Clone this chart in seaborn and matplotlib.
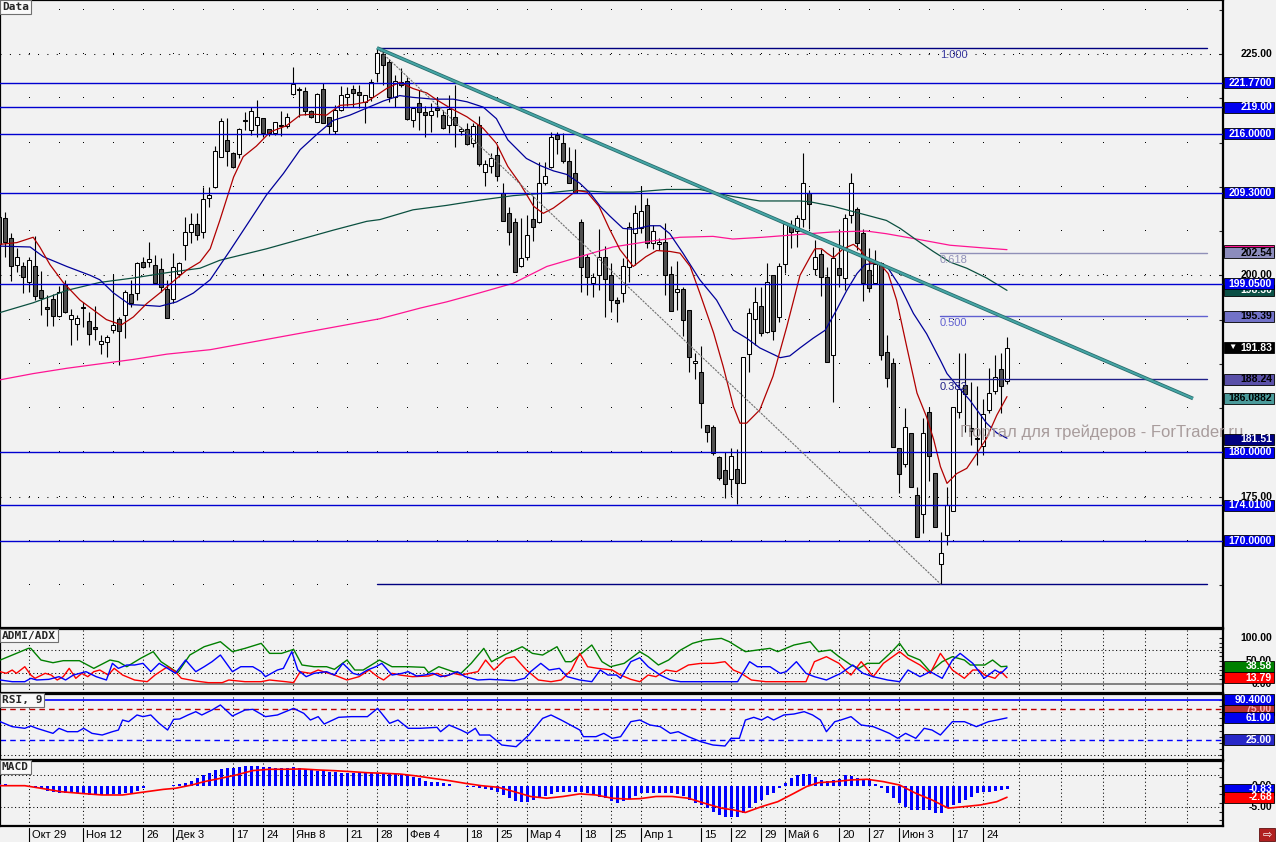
import numpy as np
import pandas as pd
import matplotlib
matplotlib.use("Agg")
import matplotlib.pyplot as plt
from matplotlib.patches import Rectangle
from matplotlib.lines import Line2D
import seaborn as sns

# -------------------------------------------------
# 1. DATA (daily bars, Oct 22 2018 - Jun 28 2019)
# -------------------------------------------------
holidays = ["2018-11-05", "2018-12-31", "2019-01-01", "2019-01-02", "2019-01-03",
            "2019-01-04", "2019-01-07", "2019-03-08", "2019-05-01", "2019-05-09", "2019-06-12"]
dates = pd.bdate_range("2018-10-22", "2019-06-28")
dates = dates[~dates.isin(pd.to_datetime(holidays))]

opens = [206.6, 206.44, 204.18, 201.13, 201.05, 199.29, 201.05, 198.34, 196.46, 197.29,
         195.44, 199.02, 195.03, 194.46, 196.40, 194.84, 194.13, 192.24, 192.51, 193.83,
         195.03, 195.52, 197.85, 197.97, 201.47, 201.54, 201.13, 200.68, 198.42, 197.29,
         200.11, 203.43, 204.93, 205.76, 204.93, 208.70, 209.94, 213.40, 215.29, 213.78,
         213.67, 217.60, 216.42, 216.98, 217.73, 216.49, 216.04, 217.00, 216.90, 220.44,
         221.00, 220.86, 218.60, 217.36, 221.00, 217.92, 216.34, 218.67, 220.18, 221.00,
         220.67, 219.60, 220.18, 222.90, 225.00, 224.13, 220.10, 221.87, 221.99, 217.55,
         219.43, 218.49, 218.11, 218.94, 218.11, 216.98, 217.92, 216.26, 216.49, 214.98,
         216.98, 211.71, 212.35, 213.55, 209.26, 207.00, 205.99, 201.09, 202.03, 206.32,
         206.06, 210.39, 212.20, 215.81, 214.98, 212.91, 211.52, 205.99, 202.11, 199.10,
         200.04, 202.03, 200.04, 197.18, 197.97, 200.98, 204.74, 205.31, 207.94, 203.69,
         203.50, 203.80, 200.11, 198.08, 198.42, 196.08, 190.06, 189.04, 183.09, 182.83,
         179.44, 178.01, 176.99, 178.09, 176.51, 191.08, 195.03, 196.53, 193.64, 200.04,
         195.33, 201.28, 205.69, 205.05, 206.32, 209.26, 200.68, 202.37, 199.85, 190.99,
         200.79, 199.66, 206.81, 207.45, 204.82, 200.60, 199.17, 201.36, 191.30, 190.06,
         180.46, 178.69, 182.15, 175.19, 173.04, 184.60, 177.63, 167.40, 170.67, 173.42,
         184.60, 187.61, 182.70, 181.65, 180.72, 184.79, 186.97, 189.38, 188.10]
highs = [207.1, 207.19, 204.81, 203.05, 201.54, 202.11, 204.44, 200.49, 197.78, 197.89,
         198.79, 199.47, 196.16, 195.52, 197.03, 195.90, 196.53, 193.26, 193.26, 200.03,
         195.25, 198.34, 199.47, 201.54, 202.11, 203.80, 202.29, 201.99, 199.47, 202.48,
         201.54, 206.63, 207.00, 207.00, 210.00, 210.00, 214.61, 217.73, 217.73, 213.97,
         216.60, 218.50, 219.05, 219.80, 217.73, 216.49, 217.36, 218.56, 218.30, 223.50,
         221.30, 221.30, 218.67, 220.56, 221.69, 217.92, 219.24, 221.38, 221.31, 221.50,
         221.50, 220.37, 222.14, 225.69, 225.45, 224.40, 222.63, 223.38, 222.44, 219.05,
         220.93, 219.13, 219.43, 220.18, 218.67, 220.37, 221.50, 216.79, 217.17, 217.17,
         217.99, 213.03, 213.78, 214.72, 210.47, 207.76, 206.44, 206.44, 206.81, 208.96,
         212.76, 212.84, 216.23, 216.23, 216.11, 214.53, 214.23, 206.32, 202.41, 200.30,
         205.20, 203.31, 201.36, 197.59, 201.92, 206.06, 207.94, 210.09, 208.70, 205.69,
         204.18, 205.87, 201.05, 201.66, 198.72, 196.08, 191.19, 192.02, 183.09, 183.09,
         179.60, 180.08, 180.46, 180.35, 190.81, 196.27, 198.72, 198.72, 201.43, 200.04,
         201.36, 206.06, 206.25, 206.81, 213.78, 209.64, 203.99, 202.94, 200.98, 203.24,
         205.20, 206.93, 211.52, 207.75, 205.20, 203.05, 202.86, 201.54, 193.26, 190.63,
         180.46, 184.98, 182.15, 176.13, 183.85, 185.17, 177.71, 171.05, 176.13, 185.17,
         191.19, 191.19, 187.99, 187.50, 185.99, 189.57, 190.99, 191.19, 193.07]
lows = [202.1, 202.11, 199.36, 200.41, 197.97, 198.15, 197.21, 195.52, 194.28, 194.28,
        195.25, 195.71, 192.13, 192.70, 194.20, 192.13, 192.70, 191.12, 190.74, 193.45,
        189.87, 192.88, 196.46, 197.21, 200.79, 200.90, 199.10, 198.15, 195.14, 196.91,
        199.85, 201.73, 203.61, 203.99, 204.18, 207.75, 209.83, 213.33, 212.35, 212.08,
        213.22, 216.40, 215.85, 215.59, 215.66, 215.74, 215.85, 215.74, 216.60, 220.37,
        217.90, 218.11, 217.73, 217.36, 217.17, 215.93, 215.93, 218.56, 219.13, 219.05,
        218.86, 217.24, 219.73, 221.87, 221.50, 219.62, 219.05, 221.31, 217.54, 216.79,
        216.42, 215.59, 216.23, 217.92, 216.49, 216.11, 214.46, 215.85, 214.72, 214.53,
        212.35, 210.09, 211.52, 210.69, 206.17, 203.43, 200.34, 200.98, 201.73, 203.92,
        205.88, 210.20, 212.09, 213.70, 212.65, 210.39, 209.26, 198.15, 197.78, 197.59,
        198.34, 195.33, 195.90, 194.77, 197.02, 199.29, 201.17, 204.74, 203.05, 202.94,
        202.86, 197.78, 196.01, 196.08, 193.15, 189.12, 188.25, 182.72, 181.21, 179.70,
        176.90, 174.81, 175.19, 174.17, 176.51, 189.12, 192.13, 193.15, 193.52, 192.70,
        194.77, 200.23, 203.05, 203.24, 205.42, 205.20, 200.04, 197.66, 190.25, 185.73,
        198.72, 198.34, 205.87, 202.86, 197.14, 198.15, 199.17, 190.44, 187.42, 180.60,
        175.38, 178.31, 176.05, 170.41, 170.93, 176.81, 171.53, 165.09, 169.54, 173.42,
        183.85, 182.34, 180.83, 178.60, 179.70, 184.41, 186.60, 184.41, 187.72]
closes = [203.5, 203.80, 201.05, 202.03, 199.85, 201.69, 197.70, 197.48, 196.16, 195.44,
          198.08, 195.82, 195.52, 195.14, 196.30, 193.37, 193.90, 192.62, 193.00, 194.39,
          193.75, 198.08, 196.91, 201.43, 200.98, 201.81, 199.10, 198.72, 195.14, 200.98,
          201.43, 204.93, 205.76, 204.55, 208.62, 209.07, 214.04, 217.43, 214.08, 212.27,
          216.49, 217.40, 218.56, 217.92, 216.11, 216.04, 217.28, 216.90, 217.92, 221.57,
          220.90, 218.60, 217.85, 220.44, 217.24, 216.87, 218.67, 220.37, 220.48, 220.63,
          220.33, 220.33, 221.87, 225.15, 223.76, 220.10, 221.95, 221.50, 217.66, 218.86,
          218.49, 218.11, 218.60, 218.67, 216.60, 218.75, 216.98, 216.49, 214.83, 216.87,
          212.54, 212.54, 213.22, 211.26, 206.17, 204.93, 200.34, 201.92, 204.55, 205.50,
          210.39, 211.26, 215.66, 215.44, 212.95, 210.47, 209.34, 200.98, 199.77, 199.77,
          202.11, 199.55, 197.21, 196.84, 201.05, 205.42, 207.00, 207.27, 203.69, 205.05,
          203.76, 200.04, 196.01, 198.42, 194.95, 190.81, 190.32, 185.54, 182.34, 179.90,
          177.07, 176.43, 179.60, 176.51, 190.81, 195.78, 197.03, 193.52, 199.29, 193.75,
          201.05, 205.76, 204.93, 206.51, 210.47, 208.02, 202.03, 199.77, 190.25, 201.92,
          200.04, 206.44, 210.47, 203.61, 199.17, 198.53, 201.24, 191.00, 188.37, 180.60,
          177.56, 182.83, 176.13, 170.41, 182.23, 179.59, 171.61, 168.60, 174.06, 185.17,
          187.12, 186.60, 182.45, 181.50, 184.30, 186.67, 188.47, 187.50, 191.83]

# moving averages: (bar, value)
ma_red = [(0.2, 203.5), (3, 203.7), (5.7, 204.3), (6.8, 203.2), (8.5, 201.2), (10.7, 199.2), (13.5, 197.2),
          (15.7, 196.1), (17.9, 195.0), (20.4, 194.4), (22.4, 195.3), (24.6, 196.8), (26.8, 198.0), (29, 199.3),
          (31.3, 200.6), (33.5, 201.5), (35.2, 203.0), (36.8, 206.2), (39.1, 211.1), (40.7, 213.4), (42.9, 214.6),
          (45.2, 216.2), (47.9, 216.9), (50.2, 218.1), (52.4, 218.2), (54.6, 218.1), (56.8, 219.2), (59.1, 219.3),
          (61.3, 219.6), (63.5, 220.6), (64.6, 221.1), (66.8, 221.8), (69, 221.1), (71.3, 220.6), (73, 219.8),
          (75.2, 218.9), (78, 217.9), (80.7, 216.6), (82.9, 214.9), (84.8, 212.3), (86.8, 210.4), (89.1, 207.8),
          (90.7, 207.0), (92.4, 207.6), (94.6, 208.7), (96.3, 209.6), (98, 209.4), (100, 207.8), (101.7, 205.3),
          (103.5, 202.9), (105.7, 201.0), (107.8, 202.1), (109.6, 202.8), (111.8, 202.7), (113.5, 202.5),
          (115.2, 201.0), (116.8, 198.0), (119.1, 193.5), (120.7, 189.7), (122.4, 185.2), (123.5, 183.3),
          (124.6, 183.3), (126.8, 184.8), (129, 188.6), (131.3, 194.2), (133.5, 200.0), (135.2, 202.1),
          (136, 203.0), (137.1, 203.0), (138, 202.5), (139.1, 202.0), (140.7, 203.0), (142.4, 203.5),
          (143.5, 202.9), (145.2, 201.4), (146.8, 201.3), (148.2, 200.2), (149.6, 197.2), (151.3, 191.9),
          (153, 186.7), (154.6, 184.0), (155.8, 181.4), (156.9, 178.4), (158, 176.5), (159.6, 177.6),
          (161.3, 178.2), (163, 179.9), (164.6, 181.6), (166.3, 184.2), (168, 186.3)]
ma_blue = [(0.2, 203.3), (5.2, 203.2), (7.4, 202.1), (11.3, 201.0), (15.2, 200.0), (16.8, 199.5), (19.1, 198.0),
           (21.8, 196.7), (24.6, 196.6), (26.8, 196.5), (29.6, 197.0), (32.4, 198.0), (35.2, 199.5), (38.5, 202.8),
           (41.8, 206.2), (44.6, 209.1), (47.4, 211.5), (50.2, 214.2), (53.1, 216.0), (55.7, 217.5), (58.5, 218.1),
           (61.3, 218.9), (64.1, 219.7), (66.8, 220.3), (69, 220.1), (72.4, 219.9), (75.7, 219.9), (78, 219.6),
           (80.7, 219.0), (82.9, 217.7), (84.8, 215.3), (87.9, 213.2), (90.2, 212.4), (92.4, 211.8), (94.6, 211.4),
           (96.8, 210.4), (98.5, 209.3), (100.2, 207.8), (101.8, 206.7), (104, 205.3), (105.7, 205.2),
           (108.5, 205.6), (110.2, 205.6), (111.8, 204.7), (114, 202.5), (116.8, 199.5), (119.6, 197.2),
           (122.4, 193.8), (124.6, 192.9), (126.8, 191.8), (130.2, 190.7), (131.8, 190.9), (133.5, 191.8),
           (135.7, 192.9), (137.7, 193.8), (139.6, 196.1), (141.3, 198.3), (143, 200.2), (144.3, 201.2),
           (146.3, 201.4), (148, 201.0), (150.2, 198.7), (152.4, 195.7), (154.6, 193.4), (156.9, 190.4),
           (158, 188.9), (159.6, 187.6), (161.8, 185.9), (164.6, 183.3), (166.3, 182.2), (168, 181.6)]
ma_green = [(0.2, 195.8), (5.7, 196.9), (11.3, 198.3), (16.8, 199.2), (22.4, 199.7), (28, 200.3), (33.5, 200.8),
            (36.8, 201.7), (44.6, 203.0), (55.7, 205.1), (61.3, 206.1), (63.5, 206.3), (69, 207.4), (74.6, 207.9),
            (80.2, 208.5), (85.7, 209.0), (91.3, 209.3), (95.7, 209.6), (101.3, 209.4), (105.7, 209.4),
            (111.3, 209.7), (116.8, 209.7), (122.3, 208.9), (126.8, 208.4), (133.5, 208.4), (135.2, 208.3),
            (139, 207.8), (144.6, 206.8), (147.9, 206.2), (150.2, 205.3), (152.9, 204.0), (155.7, 202.7),
            (158.5, 201.5), (161.3, 200.8), (164.6, 199.7), (168, 198.3)]
ma_pink = [(0.2, 188.2), (5.7, 188.9), (11.3, 189.5), (16.8, 190.0), (22.4, 190.5), (28, 191.1), (35.2, 191.6),
           (63.5, 195.1), (70.2, 196.3), (74.6, 197.0), (80, 198.0), (85.7, 199.1), (91.3, 201.0), (96.8, 202.1),
           (102.3, 203.2), (108, 203.8), (113.5, 204.3), (119, 204.4), (122.3, 204.1), (127.3, 204.3),
           (133, 204.6), (139, 204.9), (144.6, 205.0), (147.9, 204.7), (152.9, 204.1), (158.5, 203.4),
           (164, 203.1), (168, 202.9)]

# horizontal levels and right-axis tags
levels = [221.77, 219.0, 216.0, 209.3, 199.05, 180.0, 174.01, 170.0]
level_text = ["221.7700", "219.00", "216.0000", "209.3000", "199.0500", "180.0000", "174.0100", "170.0000"]
fibo_high, fibo_low = 225.69, 165.09
fibo_ratios = [0.618, 0.5, 0.382]
trend_end = (199.0, 186.0882)

# ADMI/ADX: (bar, value)
dmi_green = [(0.2, 52.1), (2.9, 66.6), (4.9, 77.5), (5.3, 77.5), (7.0, 52.1), (9.0, 46.3), (10.7, 50.7), (13.4, 50.7),
             (15.8, 34.0), (18.5, 52.1), (19.9, 48.5), (21.3, 37.6), (23.6, 55.8), (25.7, 70.3), (27.0, 48.5),
             (29.8, 24.6), (31.8, 63.0), (34.2, 81.1), (36.9, 92.0), (38.9, 70.3), (41.0, 77.5), (43.7, 88.4),
             (45.1, 66.6), (47.1, 66.6), (49.1, 75.3), (50.5, 41.3), (52.5, 37.6), (54.6, 37.6), (55.9, 31.9),
             (58.0, 52.1), (59.3, 30.4), (60.7, 30.4), (63.4, 52.1), (65.5, 37.6), (68.2, 37.6), (70.9, 36.2),
             (71.6, 24.6), (73.3, 37.6), (75.7, 26.8), (77.0, 23.2), (78.7, 44.9), (80.8, 77.5), (82.1, 48.5),
             (84.2, 63.0), (87.2, 81.1), (88.9, 66.6), (90.6, 63.0), (93.0, 81.1), (94.4, 48.5), (95.4, 48.5),
             (97.1, 66.6), (98.8, 84.8), (100.5, 48.5), (101.9, 37.6), (104.2, 44.9), (106.8, 70.3),
             (108.2, 59.4), (109.9, 41.3), (111.6, 52.1), (113.6, 73.9), (115.6, 88.4), (117.6, 95.6),
             (120.4, 99.2), (121.7, 92.0), (124.4, 70.3), (126.4, 73.9), (128.5, 77.5), (129.8, 70.3),
             (132.5, 84.8), (135.2, 92.0), (136.6, 70.3), (138.6, 73.9), (140.0, 59.4), (142.0, 41.3),
             (143.3, 34.0), (144.7, 44.9), (146.7, 44.9), (148.8, 70.3), (150.1, 88.4), (151.5, 63.0),
             (153.5, 52.1), (155.2, 26.8), (157.2, 48.5), (158.9, 59.4), (160.9, 52.1), (161.9, 41.3),
             (164.3, 41.3), (165.6, 52.1), (167.0, 37.6), (168.0, 38.6)]
dmi_red = [(0.2, 26.8), (1.2, 23.2), (2.2, 30.4), (2.9, 23.2), (4.3, 37.6), (5.3, 19.5), (6.0, 12.3), (7.7, 23.2),
           (8.7, 19.5), (9.7, 8.7), (10.7, 15.9), (11.7, 34.0), (12.8, 12.3), (13.8, 23.2), (14.8, 15.9),
           (15.8, 26.8), (16.8, 30.4), (18.2, 19.5), (19.2, 34.0), (20.6, 19.5), (22.6, 8.7), (24.7, 5.0),
           (26.0, 19.5), (28.1, 37.6), (29.4, 26.8), (30.4, 12.3), (32.8, 6.5), (34.9, 2.9), (37.2, 2.9),
           (38.3, 8.7), (41.0, 5.0), (43.7, 5.0), (45.1, 8.7), (47.8, 5.0), (49.1, 2.9), (50.2, 26.8),
           (51.9, 23.2), (53.2, 30.4), (54.6, 24.6), (55.9, 19.5), (58.0, 8.7), (60.0, 15.9), (61.7, 30.4),
           (63.1, 15.9), (64.1, 8.7), (65.5, 23.2), (66.8, 19.5), (68.9, 15.9), (71.6, 17.4), (73.0, 23.2),
           (74.3, 15.9), (75.7, 23.2), (77.0, 19.5), (78.4, 23.2), (79.8, 26.8), (81.1, 52.1), (82.5, 30.4),
           (84.5, 55.8), (85.9, 59.4), (87.9, 30.4), (89.9, 8.7), (92.0, 5.0), (93.7, 8.7), (95.4, 30.4),
           (96.8, 66.6), (98.1, 37.6), (99.8, 34.0), (102.2, 30.4), (103.6, 19.5), (105.3, 10.1), (106.8, 5.0),
           (108.2, 19.5), (109.5, 15.9), (111.2, 30.4), (112.9, 26.8), (114.9, 41.3), (117.0, 44.9),
           (119.0, 44.9), (121.0, 48.5), (122.4, 30.4), (123.7, 23.2), (125.4, 8.7), (127.8, 5.0), (129.1, 5.0),
           (134.5, 5.0), (135.9, 48.5), (137.9, 59.4), (140.0, 44.9), (141.3, 26.8), (142.0, 19.5),
           (143.7, 48.5), (145.7, 15.9), (147.4, 44.9), (150.1, 70.3), (151.5, 55.8), (153.5, 41.3),
           (155.2, 23.2), (156.9, 66.6), (158.9, 30.4), (160.9, 12.3), (162.3, 30.4), (163.3, 30.4),
           (164.3, 19.5), (166.0, 12.3), (167.0, 26.8), (168.0, 13.8)]
dmi_blue = [(0.2, 8.7), (2.2, 5.0), (4.3, 5.0), (5.3, 12.3), (6.3, 8.7), (8.3, 10.1), (10.0, 15.9), (11.1, 8.7),
            (12.4, 19.5), (14.5, 26.8), (16.2, 15.9), (17.9, 8.7), (18.9, 44.9), (19.9, 34.0), (21.3, 41.3),
            (22.6, 41.3), (24.0, 44.9), (25.3, 26.8), (26.7, 44.9), (28.1, 34.0), (29.4, 23.2), (31.1, 52.1),
            (32.8, 26.8), (34.2, 37.6), (35.5, 48.5), (36.9, 63.0), (38.9, 26.8), (40.3, 37.6), (42.3, 37.6),
            (43.7, 26.8), (44.4, 15.9), (46.4, 30.4), (47.4, 34.0), (48.8, 70.3), (49.8, 30.4), (51.2, 15.9),
            (52.5, 23.2), (54.6, 26.8), (55.9, 19.5), (57.3, 44.9), (59.0, 23.2), (60.0, 19.5), (61.4, 30.4),
            (62.8, 37.6), (63.8, 44.9), (65.5, 19.5), (67.2, 23.2), (68.2, 26.8), (69.6, 17.4), (70.9, 19.5),
            (72.3, 23.2), (73.6, 15.9), (75.0, 19.5), (76.4, 26.8), (77.7, 15.9), (79.8, 8.7), (81.8, 10.1),
            (83.8, 8.7), (85.9, 7.2), (87.6, 12.3), (88.6, 26.8), (90.3, 44.9), (91.7, 30.4), (93.4, 34.0),
            (94.7, 15.9), (96.8, 8.7), (98.8, 5.0), (100.2, 30.4), (101.5, 19.5), (102.9, 19.5), (103.6, 12.3),
            (105.3, 48.5), (106.8, 57.0), (108.2, 37.6), (110.2, 19.5), (111.9, 8.7), (113.6, 5.0),
            (123.1, 5.0), (125.1, 48.5), (126.4, 37.6), (128.5, 37.6), (130.2, 23.2), (131.2, 26.8),
            (132.9, 48.5), (134.5, 23.2), (135.9, 15.9), (137.9, 8.7), (140.3, 23.2), (142.3, 41.3),
            (144.0, 23.2), (145.7, 15.9), (148.1, 8.7), (150.1, 5.0), (151.5, 30.4), (153.5, 15.9),
            (155.2, 26.8), (157.2, 12.3), (158.9, 52.1), (160.2, 66.6), (162.3, 44.9), (164.2, 12.3),
            (166.0, 30.4), (167.0, 23.2), (168.0, 36.0)]

# RSI(9): (bar, value)
rsi = [(0.2, 54.8), (2.2, 46.7), (4.3, 44.0), (5.3, 47.8), (6.3, 44.0), (9.0, 35.8), (10.0, 44.0), (11.4, 38.5),
       (13.1, 38.5), (14.1, 44.0), (15.5, 35.8), (17.2, 33.1), (18.9, 38.5), (19.9, 41.2), (20.6, 57.5),
       (21.6, 54.8), (23.0, 65.7), (24.0, 63.0), (25.3, 65.7), (26.7, 52.1), (28.1, 41.2), (29.1, 58.6),
       (30.1, 59.2), (31.5, 65.7), (32.8, 71.1), (33.8, 65.7), (35.5, 73.8), (36.9, 82.0), (38.9, 64.0),
       (41.0, 73.8), (42.3, 74.9), (44.4, 63.0), (46.4, 65.7), (49.1, 76.5), (50.8, 68.4), (51.9, 57.5),
       (53.2, 63.0), (54.2, 51.0), (56.6, 61.9), (58.7, 63.0), (61.4, 63.0), (63.1, 76.5), (65.1, 52.1),
       (66.5, 57.5), (68.2, 44.0), (70.2, 44.0), (73.0, 45.6), (73.6, 38.5), (75.0, 49.4), (77.0, 41.2),
       (78.1, 35.8), (79.4, 44.0), (80.1, 33.1), (81.8, 33.1), (83.8, 16.8), (86.2, 14.1), (88.3, 33.1),
       (90.6, 60.2), (92.0, 65.7), (93.7, 57.5), (96.8, 41.2), (97.4, 30.4), (99.5, 30.4), (100.8, 35.8),
       (102.2, 27.7), (103.6, 30.4), (105.3, 54.8), (106.8, 57.5), (108.5, 49.4), (110.2, 46.7),
       (111.9, 35.8), (113.2, 38.5), (114.9, 30.4), (117.0, 22.2), (119.0, 16.8), (121.0, 15.2),
       (122.0, 27.7), (123.4, 27.7), (124.4, 57.5), (125.8, 61.9), (127.1, 57.5), (128.1, 63.0),
       (129.1, 57.5), (130.8, 65.7), (132.5, 67.3), (134.2, 71.1), (135.6, 65.7), (136.9, 57.5),
       (137.9, 38.5), (139.3, 54.8), (140.3, 57.5), (142.0, 63.0), (143.7, 49.4), (145.7, 46.7),
       (147.1, 41.2), (148.4, 35.8), (149.8, 27.7), (151.1, 35.8), (152.8, 27.7), (154.2, 44.0),
       (155.5, 41.2), (156.9, 33.1), (158.9, 54.8), (160.9, 54.8), (162.9, 46.7), (164.9, 54.8),
       (166.3, 57.5), (168.0, 61.0)]

# MACD histogram (one value per bar) and signal line
macd_hist = [0.4, 0.5, 0.1, 0.0, -0.1, -0.3, -0.6, -0.84, -1.15, -1.38,
             -1.6, -1.76, -1.76, -1.76, -1.9, -2.1, -2.15, -2.15, -2.15, -1.95,
             -1.9, -1.76, -1.6, -1.15, -0.6, -0.08, -0.05, 0.0, -0.05, 0.05,
             0.4, 0.7, 1.17, 1.71, 2.48, 3.0, 3.64, 3.8, 4.0, 4.18,
             4.41, 4.56, 4.56, 4.56, 4.41, 4.25, 4.18, 4.18, 4.18, 4.25,
             4.1, 3.87, 3.64, 3.5, 3.3, 3.25, 3.1, 3.02, 3.02, 3.02,
             2.95, 2.87, 2.87, 2.87, 2.87, 2.71, 2.64, 2.64, 2.48, 2.1,
             1.71, 1.17, 0.94, 0.78, 0.55, 0.32, 0.01, -0.08, -0.22, -0.22,
             -0.45, -0.84, -0.99, -1.38, -2.15, -2.92, -3.54, -3.69, -3.69, -3.31,
             -2.92, -2.38, -1.92, -1.38, -1.38, -1.38, -1.38, -1.38, -1.76, -2.15,
             -2.54, -2.92, -3.54, -3.92, -3.6, -3.0, -2.4, -1.76, -1.76, -1.76,
             -1.76, -1.76, -1.76, -2.0, -2.3, -3.3, -4.07, -4.45, -5.2, -6.0,
             -6.8, -7.2, -7.2, -7.2, -6.4, -5.2, -4.07, -3.3, -2.15, -1.76,
             -0.6, 0.6, 1.7, 2.48, 2.71, 2.71, 2.1, 1.33, 1.17, 1.33,
             1.48, 2.48, 2.25, 1.71, 1.48, 1.33, 0.4, -0.6, -1.76, -2.92,
             -4.07, -4.84, -5.6, -5.6, -5.6, -5.6, -6.4, -6.4, -5.2, -4.45,
             -4.07, -3.3, -2.54, -1.76, -1.38, -1.5, -1.2, -0.9, -0.83]
macd_signal = [(0.2, 0.0), (4.3, 0.0), (7.0, -0.6), (10.4, -1.4), (13.8, -1.8), (17.2, -2.15), (20.6, -2.15),
               (24.0, -1.5), (27.4, -0.85), (29.4, -0.6), (32.1, 0.15), (34.2, 0.94), (36.9, 1.7), (39.6, 2.5),
               (42.3, 3.5), (45.1, 3.8), (47.8, 3.8), (50.5, 3.87), (53.2, 3.64), (55.9, 3.48), (58.7, 3.25),
               (61.4, 3.0), (64.1, 2.87), (66.8, 2.7), (69.6, 2.25), (72.3, 1.7), (75.0, 1.17), (77.7, 0.55),
               (80.4, 0.0), (83.2, -0.37), (85.9, -1.4), (88.6, -2.5), (91.3, -2.9), (94.0, -2.5), (96.8, -1.9),
               (99.5, -2.15), (102.2, -2.9), (104.9, -3.1), (106.8, -3.0), (109.5, -2.5), (112.2, -2.5),
               (114.9, -2.9), (117.6, -4.07), (120.4, -5.2), (122.4, -5.6), (124.4, -6.2), (127.1, -4.84),
               (129.8, -3.7), (132.5, -1.76), (134.6, -0.2), (136.6, 0.7), (139.3, 0.94), (142.0, 1.33),
               (144.7, 1.48), (147.4, 0.94), (150.1, 0.15), (152.8, -1.76), (155.5, -3.3), (158.2, -5.2),
               (160.9, -4.84), (163.6, -4.45), (166.3, -3.7), (168.0, -2.68)]

# x-axis labels
lab_dates = ["2018-10-29", "2018-11-12", "2018-11-26", "2018-12-03", "2018-12-17", "2018-12-24",
             "2019-01-08", "2019-01-21", "2019-01-28", "2019-02-04", "2019-02-18", "2019-02-25",
             "2019-03-04", "2019-03-18", "2019-03-25", "2019-04-01", "2019-04-15", "2019-04-22",
             "2019-04-29", "2019-05-06", "2019-05-20", "2019-05-27", "2019-06-03", "2019-06-17", "2019-06-24"]
lab_text = ["Окт 29", "Ноя 12", "26", "Дек 3", "17", "24", "Янв 8", "21", "28", "Фев 4", "18", "25",
            "Мар 4", "18", "25", "Апр 1", "15", "22", "29", "Май 6", "20", "27", "Июн 3", "17", "24"]
future_cols = [170, 177, 184, 191, 198]

# -------------------------------------------------
# 2. FIGURE / PANELS
# -------------------------------------------------
sns.set_style("white")
plt.rcParams["font.family"] = ["Liberation Sans", "DejaVu Sans"]
plt.rcParams["patch.edgecolor"] = "none"

W, H = 1276, 842
BG = "#f2f2f2"
fig = plt.figure(figsize=(W / 100, H / 100), dpi=100, facecolor=BG)


def px_box(x0, y0, x1, y1):
    return [x0 / W, 1 - y1 / H, (x1 - x0) / W, (y1 - y0) / H]


ax = fig.add_axes(px_box(0, 0, 1223, 627.5))
ax_adx = fig.add_axes(px_box(0, 628.5, 1223, 692.5))
ax_rsi = fig.add_axes(px_box(0, 693.5, 1223, 759.5))
ax_macd = fig.add_axes(px_box(0, 760.5, 1223, 826))
panels = [ax, ax_adx, ax_rsi, ax_macd]

for a in panels:
    a.set_facecolor(BG)
    a.set_xlim(1 / 6, 204.0)
    for s in a.spines.values():
        s.set_color("black")
        s.set_linewidth(1.6)
    a.yaxis.tick_right()
    a.tick_params(axis="y", direction="in", length=3, width=0.8, labelright=False, right=True, left=False)
    a.tick_params(axis="x", bottom=False, labelbottom=False)

ax.set_ylim(160.22, 231.1)
ax_adx.set_ylim(-18.5, 120.7)
ax_rsi.set_ylim(-6.8, 100.7)
ax_macd.set_ylim(-9.33, 5.83)
ax.set_yticks(np.arange(165, 231, 5))
ax_adx.set_yticks(np.arange(0, 101, 10))
ax_rsi.set_yticks(np.arange(0, 101, 10))
ax_macd.set_yticks(np.arange(-8, 5, 2))

n = len(closes)
idx = np.arange(n)
wk = dates.isocalendar().week.values
week_starts = [i for i in range(n) if i == 0 or wk[i] != wk[i - 1]]
lab_idx = [dates.get_loc(pd.Timestamp(d)) for d in lab_dates]

# ---- grid (dots at week x 5-unit intersections) ----
gx, gy = np.meshgrid(week_starts + future_cols, np.arange(165, 231, 5))
ax.plot(gx.ravel(), gy.ravel(), ",", color="black", zorder=1)
for v in (175, 200, 225):
    ax.axhline(v, color="black", lw=0.75, ls=(0, (1, 8)), zorder=1)

for a, rows in ((ax_adx, (75, 25)), (ax_rsi, (50, 0)), (ax_macd, (2.5, -5))):
    for v in rows:
        a.axhline(v, color="black", lw=0.75, ls=(0, (1, 2.5)), zorder=1)
    for c in lab_idx + future_cols:
        a.axvline(c, color="black", lw=0.75, ls=(0, (1, 2.5)), zorder=1)

# ---- candles ----
o, h, l, c = map(np.array, (opens, highs, lows, closes))
up = c > o
ax.vlines(idx, l, h, color="black", lw=0.8, zorder=3)
bot = np.minimum(o, c)
bh = np.maximum(np.abs(c - o), 0.12)
ax.bar(idx[up], bh[up], bottom=bot[up], width=0.68, color="white", edgecolor="black", linewidth=0.75, zorder=4)
ax.bar(idx[~up], bh[~up], bottom=bot[~up], width=0.68, color="#505050", edgecolor="black", linewidth=0.75,
       zorder=4)


def line(a, pts, color, lw=0.9, z=5):
    xs, ys = zip(*pts)
    sns.lineplot(x=list(xs), y=list(ys), ax=a, color=color, linewidth=lw, estimator=None, sort=False,
                 zorder=z)


line(ax, ma_pink, "#ff1493")
line(ax, ma_green, "#0b5040")
line(ax, ma_blue, "#00009a")
line(ax, ma_red, "#b00000")

# ---- levels, fibo, trendline ----
for v in levels:
    ax.axhline(v, color="#0000d0", lw=1.0, zorder=6)

x_fib = 941 / 6
x_end = 1208 / 6
ax.plot([63, x_end], [fibo_high, fibo_high], color="#000080", lw=1.0, zorder=6)
ax.plot([63, x_end], [fibo_low, fibo_low], color="#000080", lw=1.0, zorder=6)
fib_cols = ["#9090b8", "#6060d0", "#202088"]
for r, col in zip(fibo_ratios, fib_cols):
    v = fibo_low + r * (fibo_high - fibo_low)
    ax.plot([x_fib, x_end], [v, v], color=col, lw=1.0, zorder=6)
    ax.text(x_fib, v - 0.8, f"{r:.3f}", color=col, fontsize=8, ha="left", va="center", zorder=7)
ax.text(x_fib, fibo_high - 0.8, "1.000", color="#3a3aa0", fontsize=8, ha="left", va="center", zorder=7)
ax.plot([63, 157], [fibo_high, fibo_low], color="#707070", lw=0.8, ls=(0, (2, 1)), zorder=6)

ax.plot([63, trend_end[0]], [fibo_high, trend_end[1]], color="#2a6e6e", lw=2.6, zorder=7,
        solid_capstyle="butt")
ax.plot([63, trend_end[0]], [fibo_high, trend_end[1]], color="#45a5a5", lw=1.4, zorder=7,
        solid_capstyle="butt")

# ---- ADX panel ----
ax_adx.axhline(0, color="#808080", lw=1.4, zorder=2)
line(ax_adx, dmi_green, "#008000", lw=1.0)
line(ax_adx, dmi_red, "#ff0000", lw=1.0)
line(ax_adx, dmi_blue, "#0000ff", lw=1.0)

# ---- RSI panel ----
ax_rsi.axhline(90.4, color="#0000ff", lw=1.2, zorder=2)
ax_rsi.axhline(75, color="#c00000", lw=1.0, ls=(0, (4, 3)), zorder=2)
ax_rsi.axhline(25, color="#0000ff", lw=1.0, ls=(0, (4, 3)), zorder=2)
line(ax_rsi, rsi, "#0000ff", lw=1.0)

# ---- MACD panel ----
ax_macd.bar(idx, macd_hist, width=0.5, color="#0000ff", edgecolor="none", linewidth=0, zorder=3)
line(ax_macd, macd_signal, "#ff0000", lw=1.2)

for a in panels:
    a.set_xlabel("")
    a.set_ylabel("")

# -------------------------------------------------
# 3. RIGHT SCALE TAGS / LABELS
# -------------------------------------------------
zc = [5.0]


def ypx(a, v):
    return a.transData.transform((0, v))[1]


def plain(a, v, text):
    fig.text(1272 / W, ypx(a, v) / H, text, ha="right", va="center", fontsize=7.5, fontweight="bold",
             color="black", zorder=4.5)


def tag(a, v, text, fc, tc="white"):
    y = ypx(a, v)
    zc[0] += 0.01
    fig.add_artist(Rectangle((1224 / W, (y - 5.5) / H), 50 / W, 11 / H, transform=fig.transFigure,
                             facecolor=fc, edgecolor="black", linewidth=0.6, zorder=zc[0]))
    if text:
        fig.text(1272 / W, y / H, text, ha="right", va="center", fontsize=7.5, fontweight="bold", color=tc,
                 zorder=zc[0] + 0.005)
    return y


# watermark
fig.text(960 / W, 1 - 432 / H, "Портал для трейдеров - ForTrader.ru", fontsize=12, color="#a89c9c",
         ha="left", va="center", zorder=4)

for v in (225, 200, 175):
    plain(ax, v, f"{v:.2f}")
BLUE = "#0000ee"
for v, t in zip(levels[:4], level_text[:4]):
    tag(ax, v, t, BLUE)
tag(ax, 202.86, "", "#ff1493")
tag(ax, 202.54, "202.54", "#8c8cbc", "black")
tag(ax, 198.30, "198.30", "#0b5046")
tag(ax, 199.05, "199.0500", BLUE)
tag(ax, 195.39, "195.39", "#7272c8", "black")
tag(ax, 188.24, "188.24", "#5a50a8", "black")
tag(ax, 186.0882, "186.0882", "#4a9a9a", "black")
yl = tag(ax, 191.83, "191.83", "black")
fig.text(1228 / W, yl / H, "▼", ha="left", va="center", fontsize=6, color="white", zorder=zc[0] + 0.006)
tag(ax, 181.51, "181.51", "#000080")
for v, t in zip(levels[5:], level_text[5:]):
    tag(ax, v, t, BLUE)

for v in (100, 50, 0):
    plain(ax_adx, v, f"{v:.2f}")
tag(ax_adx, 38.58, "38.58", "#008000")
tag(ax_adx, 13.79, "13.79", "#ff0000")

tag(ax_rsi, 75, "75.00", "#b83030", "#ffb0b0")
tag(ax_rsi, 90.4, "90.4000", BLUE)
tag(ax_rsi, 61, "61.00", BLUE)
tag(ax_rsi, 25, "25.00", "#2828c8")

plain(ax_macd, 0, "0.00")
plain(ax_macd, -5, "-5.00")
tag(ax_macd, -0.83, "-0.83", BLUE)
tag(ax_macd, -2.68, "-2.68", "#ff0000")

# panel captions
for ypos, txt in ((7, "Data"), (635.5, "ADMI/ADX"), (700, "RSI, 9"), (767, "MACD")):
    fig.text(2 / W, 1 - ypos / H, txt, fontsize=8, fontweight="bold", family="DejaVu Sans Mono",
             ha="left", va="center", zorder=9,
             bbox=dict(boxstyle="square,pad=0.15", fc="#fafafa", ec="#707070", lw=0.8))

# x-axis labels with separators
for k, t in zip(lab_idx, lab_text):
    xp = ax_macd.transData.transform((k, 0))[0]
    fig.add_artist(Line2D([xp / W, xp / W], [1 - 828 / H, 0], color="black", lw=0.8,
                          transform=fig.transFigure))
    fig.text((xp + 3) / W, 1 - 835.5 / H, t, fontsize=8, ha="left", va="center", color="black")

# little exit icon bottom right
fig.add_artist(Rectangle((1259 / W, 1 - 841 / H), 16 / W, 13 / H, transform=fig.transFigure,
                         facecolor="#b02020", edgecolor="#601010", linewidth=0.6))
fig.text(1267 / W, 1 - 834.5 / H, "⇨", fontsize=8, color="white", ha="center", va="center",
         family="DejaVu Sans")

fig.savefig("out.png", dpi=100, facecolor=BG)
